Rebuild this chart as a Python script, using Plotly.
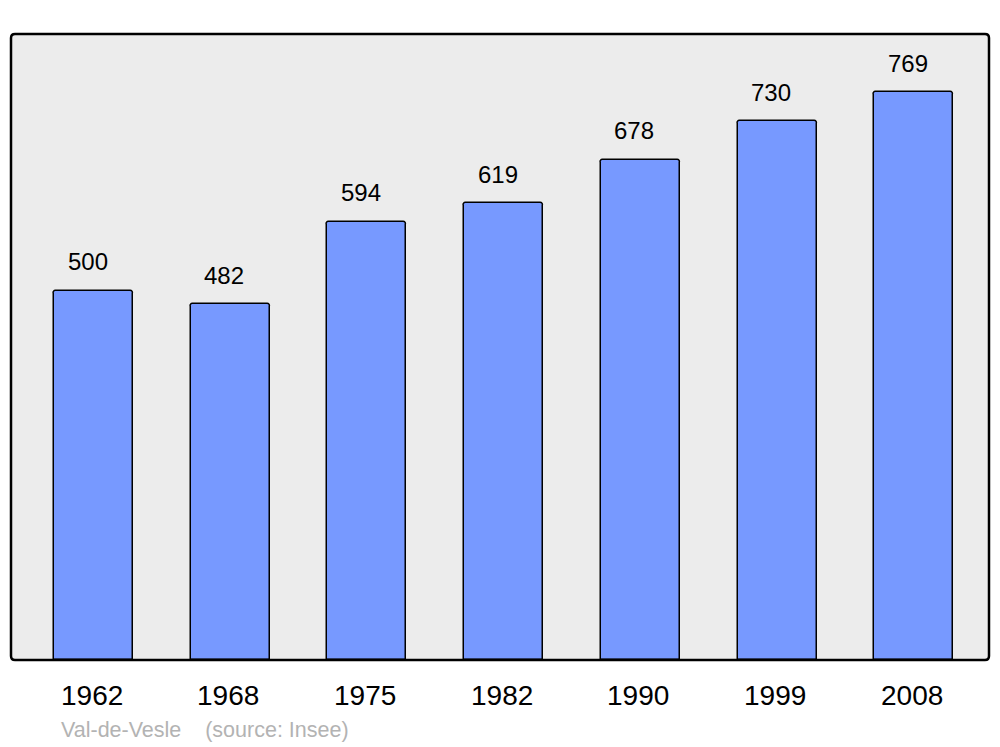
import plotly.graph_objects as go

years = ["1962", "1968", "1975", "1982", "1990", "1999", "2008"]
population = [500, 482, 594, 619, 678, 730, 769]
source_note = "Val-de-Vesle    (source: Insee)"

xpos = list(range(len(years)))

W, H = 1000, 747
ml, mr, mt, mb = 11, 11, 34, 87
pw, ph = W - ml - mr, H - mt - mb

fig = go.Figure()
fig.add_trace(go.Bar(
    x=xpos, y=population, width=0.578,
    marker=dict(color="#7799ff", line=dict(color="#000000", width=1.5), cornerradius=3),
    hoverinfo="skip",
))

# value labels above bars
for x, v in zip(xpos, population):
    fig.add_annotation(x=x, y=v, text=str(v), showarrow=False, xshift=-6, yshift=29,
                       yanchor="middle", font=dict(size=24, color="#000000"))

# year labels under the plot
for x, yr in zip(xpos, years):
    fig.add_annotation(x=x, y=0, yref="paper", text=yr, showarrow=False, xshift=-2, yshift=-35,
                       yanchor="middle", font=dict(size=28, color="#000000"))

fig.add_annotation(x=0, xref="paper", xanchor="left", xshift=48, y=0, yref="paper", yshift=-70,
                   yanchor="middle", text=source_note, showarrow=False,
                   font=dict(size=21.5, color="#b3b3b3"))

# rounded frame around the plot area
rx, ry = 4 / pw, 4 / ph
frame = (f"M {rx},0 L {1-rx},0 Q 1,0 1,{ry} L 1,{1-ry} Q 1,1 {1-rx},1 "
         f"L {rx},1 Q 0,1 0,{1-ry} L 0,{ry} Q 0,0 {rx},0 Z")
fig.add_shape(type="path", xref="paper", yref="paper", path=frame,
              line=dict(color="#000000", width=2.5), layer="above")

fig.update_layout(
    width=W, height=H,
    margin=dict(l=ml, r=mr, t=mt, b=mb),
    paper_bgcolor="#ffffff", plot_bgcolor="#ececec",
    font=dict(family="Liberation Sans, Arial, sans-serif"),
    showlegend=False,
    xaxis=dict(range=[-0.604, 6.55], showticklabels=False, showgrid=False, zeroline=False, ticks=""),
    yaxis=dict(range=[0, 848], showticklabels=False, showgrid=False, zeroline=False, ticks=""),
    bargap=0,
)

# drop the default page margin so the figure fills the window exactly
fig.write_html("out.html", config={"displayModeBar": False},
               post_script="document.body.style.margin='0';")
